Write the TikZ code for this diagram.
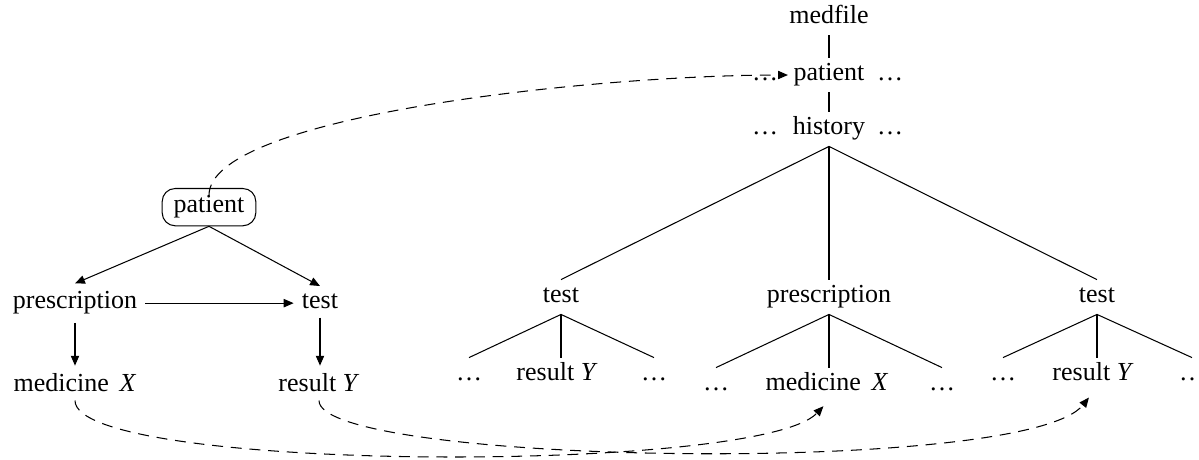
\documentclass[tikz,border=0pt]{standalone}
\usepackage{fontspec}
\setmainfont{Liberation Serif}
\usetikzlibrary{arrows.meta,fit}
\begin{document}
\begin{tikzpicture}[x=0.3846pt,y=-0.3846pt,
  font=\fontsize{10}{12}\selectfont,
  tnode/.style={anchor=base,inner sep=2pt,text height=6.8pt,text depth=2.2pt},
  fnode/.style={anchor=base,inner sep=3pt},
  arr/.style={-{Triangle[length=3.8pt,width=3.2pt]}},
  link/.style={arr,dash pattern=on 4.2pt off 3pt},
  pbox/.style={draw,rounded corners=5pt,inner xsep=4.2pt,inner ysep=2.6pt}]
\useasboundingbox (0,0) rectangle (1199,460);

% ---- left: dependency graph ----
\node[fnode,inner sep=0pt] (patL) at (209,213) {patient};
\node[pbox,fit=(patL)] (patbox) {};
\node[fnode] (prescL) at (75,309) {prescription};
\node[fnode] (testL) at (320,309) {test};
\node[fnode] (medL) at (75,392) {medicine\, \textit{X}};
\node[fnode] (resL) at (319,392) {result \textit{Y}};

\draw[arr] (patbox.south) -- (prescL.north);
\draw[arr] (patbox.south) -- (testL.north);
\draw[arr] (prescL.east) -- (prescL.east -| testL.west);
\draw[arr] (prescL.south) -- (prescL.south |- medL.north);
\draw[arr] (testL.south) -- (testL.south |- resL.north);

% ---- right: document tree ----
\node[tnode] (med) at (829,24) {medfile};
\node[tnode] (patR) at (829,81) {patient};
\node[tnode] (patRa) at (765,81) {\ldots};
\node[tnode] (patRb) at (890,81) {\ldots};
\node[tnode] (hist) at (829,135) {history};
\node[tnode] (hista) at (765,135) {\ldots};
\node[tnode] (histb) at (890,135) {\ldots};

\node[tnode] (t1) at (561,303) {test};
\node[tnode] (p1) at (829,303) {prescription};
\node[tnode] (t2) at (1097,303) {test};

\node[tnode] (t1a) at (469,381) {\ldots};
\node[tnode] (t1b) at (557,381) {result \textit{Y}};
\node[tnode] (t1c) at (654,381) {\ldots};
\node[tnode] (p1a) at (716,391) {\ldots};
\node[tnode] (p1b) at (827,391) {medicine\, \textit{X}};
\node[tnode] (p1c) at (942,391) {\ldots};
\node[tnode] (t2a) at (1003,381) {\ldots};
\node[tnode] (t2b) at (1093,381) {result \textit{Y}};
\node[tnode] (t2c) at (1192,381) {\ldots};

\draw (med.south) -- (patR.north);
\draw (patR.south) -- (hist.north);
\draw (hist.south) -- (t1.north);
\draw (hist.south) -- (p1.north);
\draw (hist.south) -- (t2.north);

\draw (t1.south) -- (t1a.north);
\draw (t1.south) -- (t1.south |- t1b.north);
\draw (t1.south) -- (t1c.north);
\draw (p1.south) -- (p1a.north);
\draw (p1.south) -- (p1.south |- p1b.north);
\draw (p1.south) -- (p1c.north);
\draw (t2.south) -- (t2a.north);
\draw (t2.south) -- (t2.south |- t2b.north);
\draw (t2.south) -- (t2c.north);

% ---- dashed correspondences ----
\draw[link] (patL.north) .. controls +(0,-80) and +(-190,0) .. (patR.west);
\draw[link,shorten >=2pt] (medL.south) .. controls +(0,72) and +(-68,72) .. (p1b.south);
\draw[link,shorten >=2.5pt] (resL.south) .. controls +(0,64) and +(-67,84) .. (t2b.south);
\end{tikzpicture}
\end{document}
